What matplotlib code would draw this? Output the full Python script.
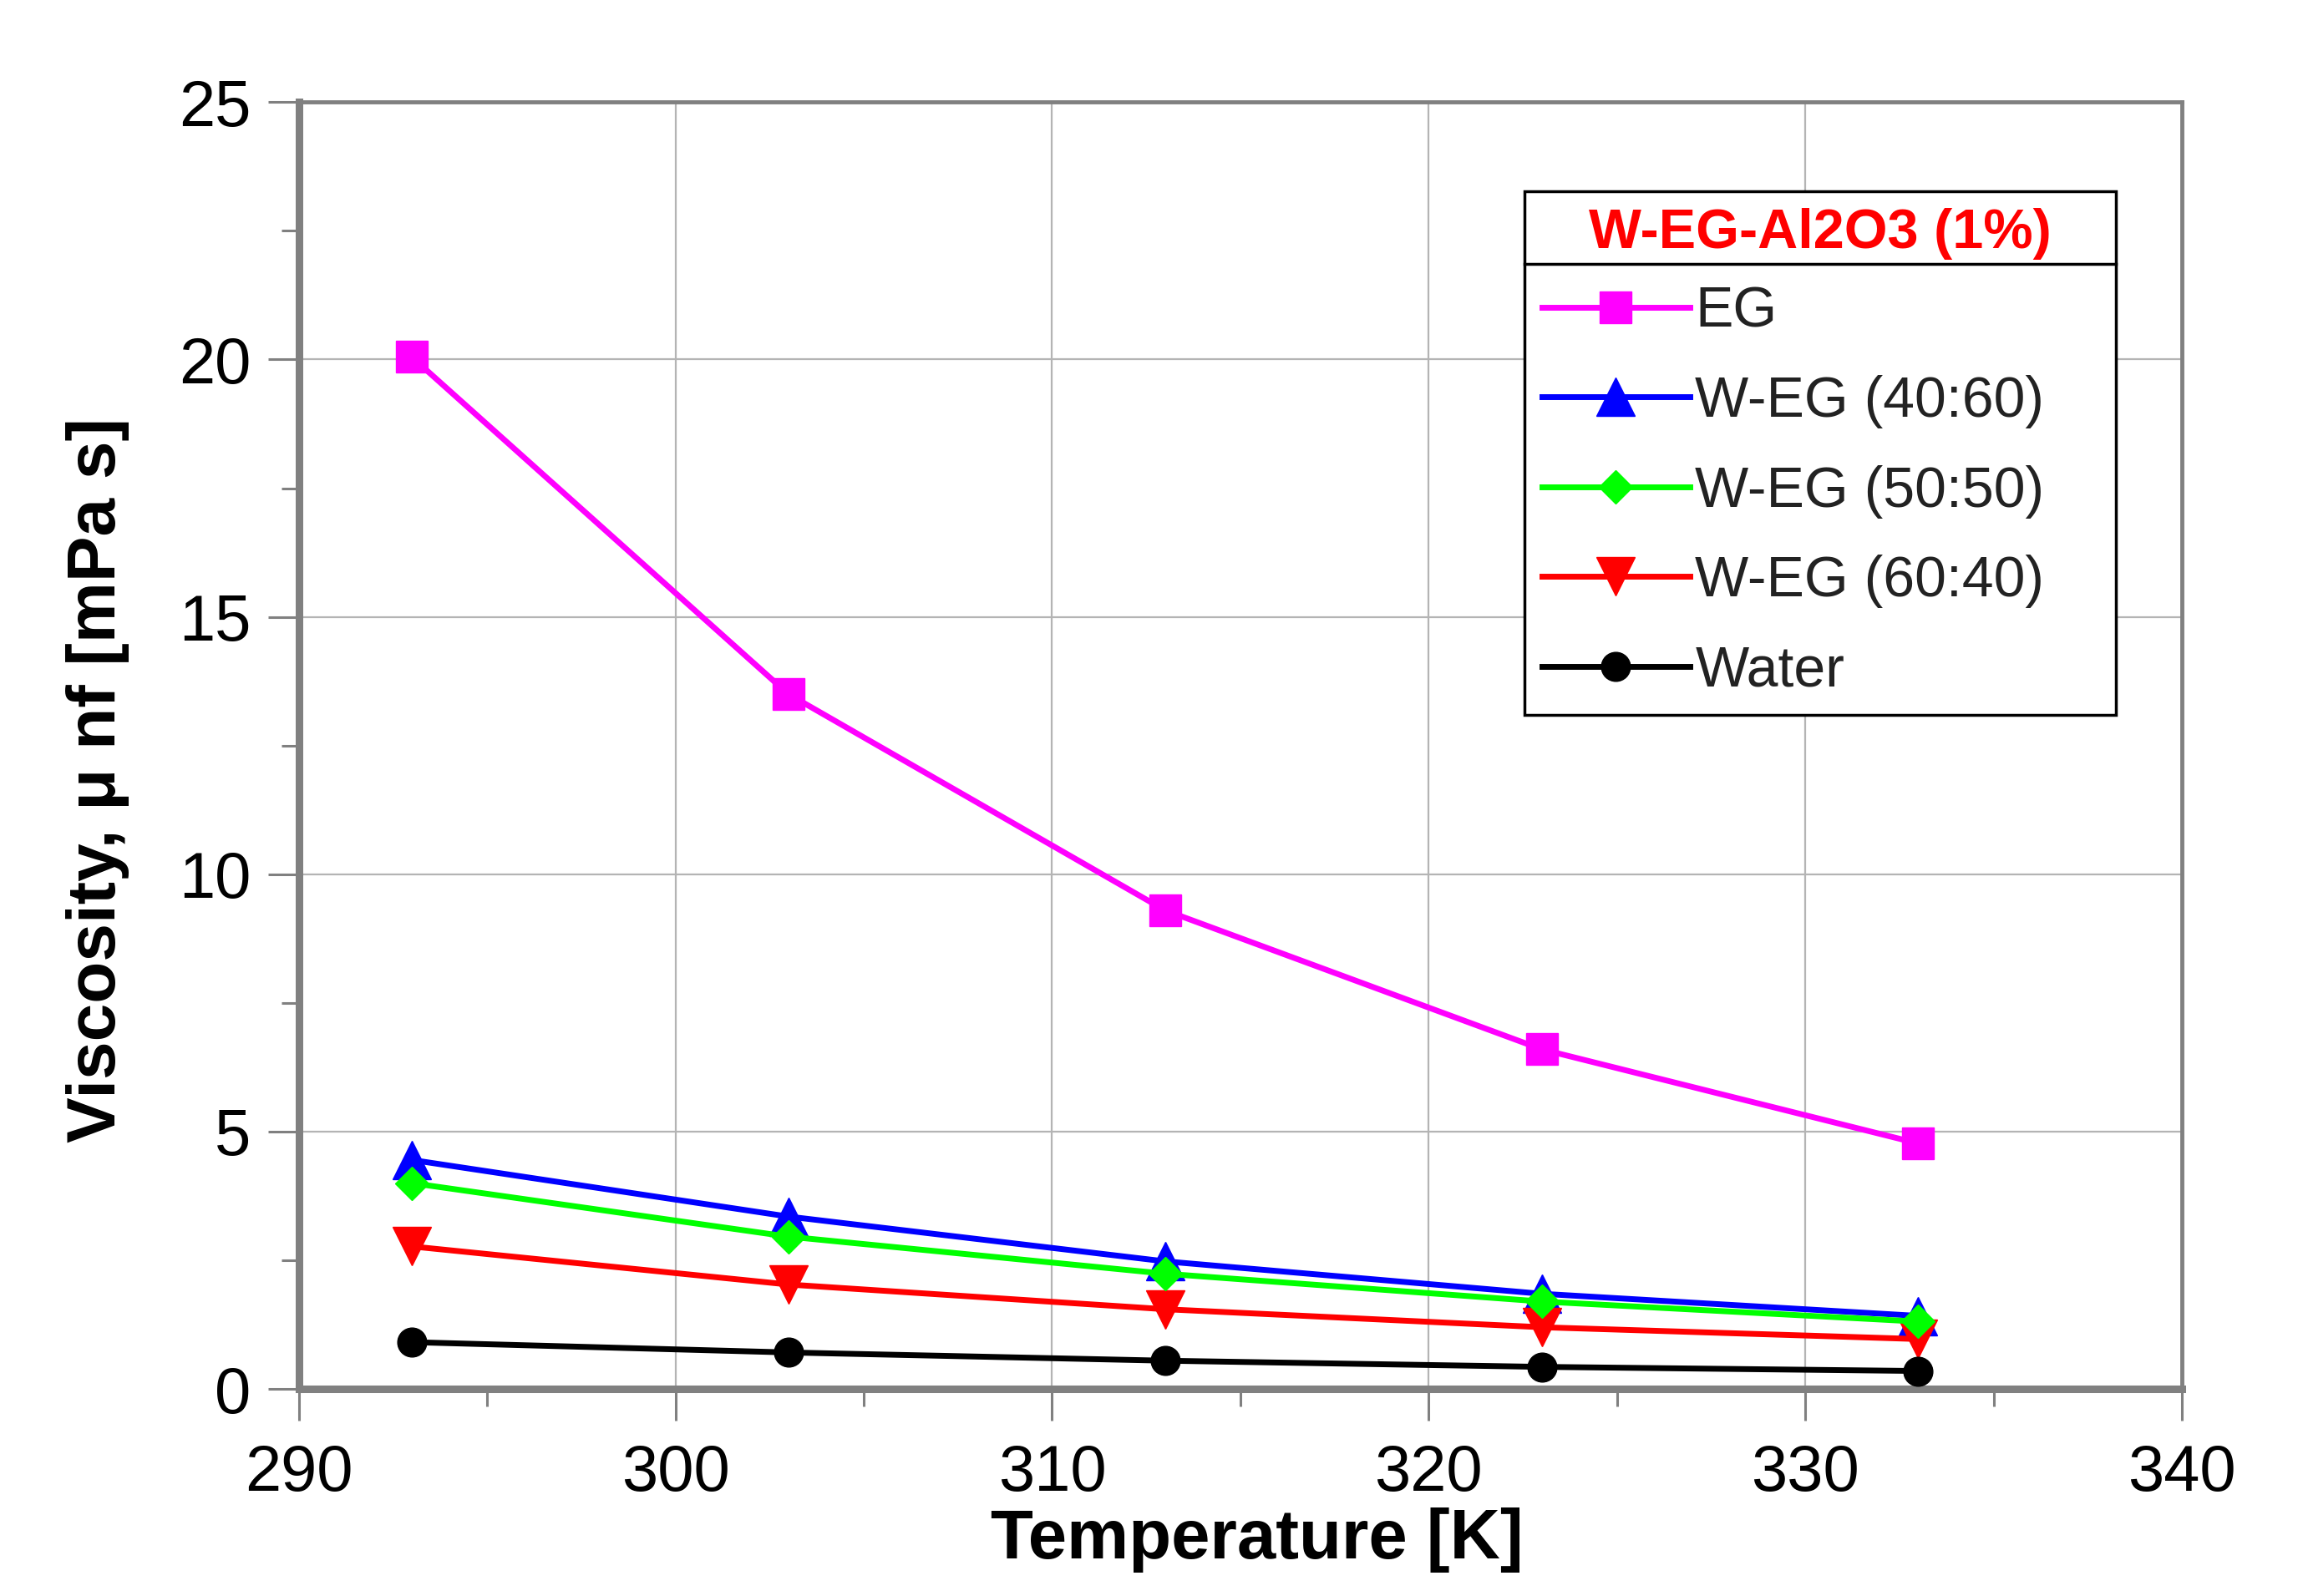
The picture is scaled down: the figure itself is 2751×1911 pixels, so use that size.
import numpy as np
import matplotlib
matplotlib.use("Agg")
import matplotlib.pyplot as plt
from matplotlib.ticker import MultipleLocator
from matplotlib.lines import Line2D

plt.rcParams['font.family'] = ['Liberation Sans', 'DejaVu Sans']

# --- data ---
temperature = [293, 303, 313, 323, 333]
eg = [20.05, 13.5, 9.3, 6.6, 4.77]
weg_40_60 = [4.45, 3.35, 2.48, 1.85, 1.42]
weg_50_50 = [4.0, 2.96, 2.24, 1.70, 1.31]
weg_60_40 = [2.77, 2.03, 1.55, 1.20, 0.97]
water = [0.91, 0.71, 0.55, 0.43, 0.35]

series_labels = ['EG', 'W-EG (40:60)', 'W-EG (50:50)', 'W-EG (60:40)', 'Water']
legend_title = 'W-EG-Al2O3 (1%)'

fig = plt.figure(figsize=(27.51, 19.11), dpi=100)
ax = fig.add_axes([0.130, 0.1297, 0.8195, 0.8063])

lw = 5
ax.plot(temperature, eg, color='#FF00FF', lw=lw, marker='s', ms=27, label=series_labels[0], zorder=3)
ax.plot(temperature, weg_40_60, color='#0000FF', lw=lw, marker='^', ms=33, label=series_labels[1], zorder=3)
ax.plot(temperature, weg_50_50, color='#00FF00', lw=lw, marker='D', ms=20, label=series_labels[2], zorder=4)
ax.plot(temperature, weg_60_40, color='#FF0000', lw=lw, marker='v', ms=33, label=series_labels[3], zorder=3)
ax.plot(temperature, water, color='black', lw=lw, marker='o', ms=25, label=series_labels[4], zorder=3)

ax.set_xlim(290, 340)
ax.set_ylim(0, 25)
ax.xaxis.set_major_locator(MultipleLocator(10))
ax.xaxis.set_minor_locator(MultipleLocator(5))
ax.yaxis.set_major_locator(MultipleLocator(5))
ax.yaxis.set_minor_locator(MultipleLocator(2.5))

ax.grid(True, which='major', color='#b4b4b4', lw=1.6, zorder=0)
ax.set_axisbelow(True)

for side in ['left', 'bottom']:
    ax.spines[side].set_color('#808080')
    ax.spines[side].set_linewidth(6.5)
for side in ['top', 'right']:
    ax.spines[side].set_color('#808080')
    ax.spines[side].set_linewidth(3.5)

ax.tick_params(which='major', direction='out', length=27, width=2.2, color='#808080',
               labelsize=56, pad=14)
ax.tick_params(axis='x', which='major', pad=20)
ax.tick_params(which='minor', direction='out', length=15, width=2.2, color='#808080')

ax.set_xlabel('Temperature [K]', fontsize=60, fontweight='bold')
ax.set_ylabel('Viscosity, \u03bc nf [mPa s]', fontsize=59, fontweight='bold')
ax.xaxis.set_label_coords(0.509, -0.092)
ax.yaxis.set_label_coords(-0.090, 0.473)

leg = ax.legend(loc='upper left', bbox_to_anchor=(0.651, 0.931, 0.314, 0.0),
                mode='expand', borderaxespad=0,
                fontsize=49, title=legend_title,
                title_fontproperties={'size': 48, 'weight': 'bold'},
                frameon=True, fancybox=False, edgecolor='black', framealpha=1,
                handlelength=2.6, handletextpad=0.1, labelspacing=0.64,
                borderpad=0.3, markerscale=1.0)
leg._legend_box.sep = 22  # tighter gap between title cell and first entry
leg.get_frame().set_linewidth(2.5)
leg.get_title().set_color('red')
for txt in leg.get_texts():
    txt.set_color('#222222')

# separator line under the legend title
fig.canvas.draw()
renderer = fig.canvas.get_renderer()
lb = leg.get_window_extent(renderer)
tb = leg.get_title().get_window_extent(renderer)
y_sep = tb.y0 - 5
inv = fig.transFigure.inverted()
x0, y0 = inv.transform((lb.x0, y_sep))
x1, _ = inv.transform((lb.x1, y_sep))
fig.add_artist(Line2D([x0, x1], [y0, y0], transform=fig.transFigure,
                      color='black', lw=2.5, zorder=10))

fig.savefig('out.png', dpi=100)
